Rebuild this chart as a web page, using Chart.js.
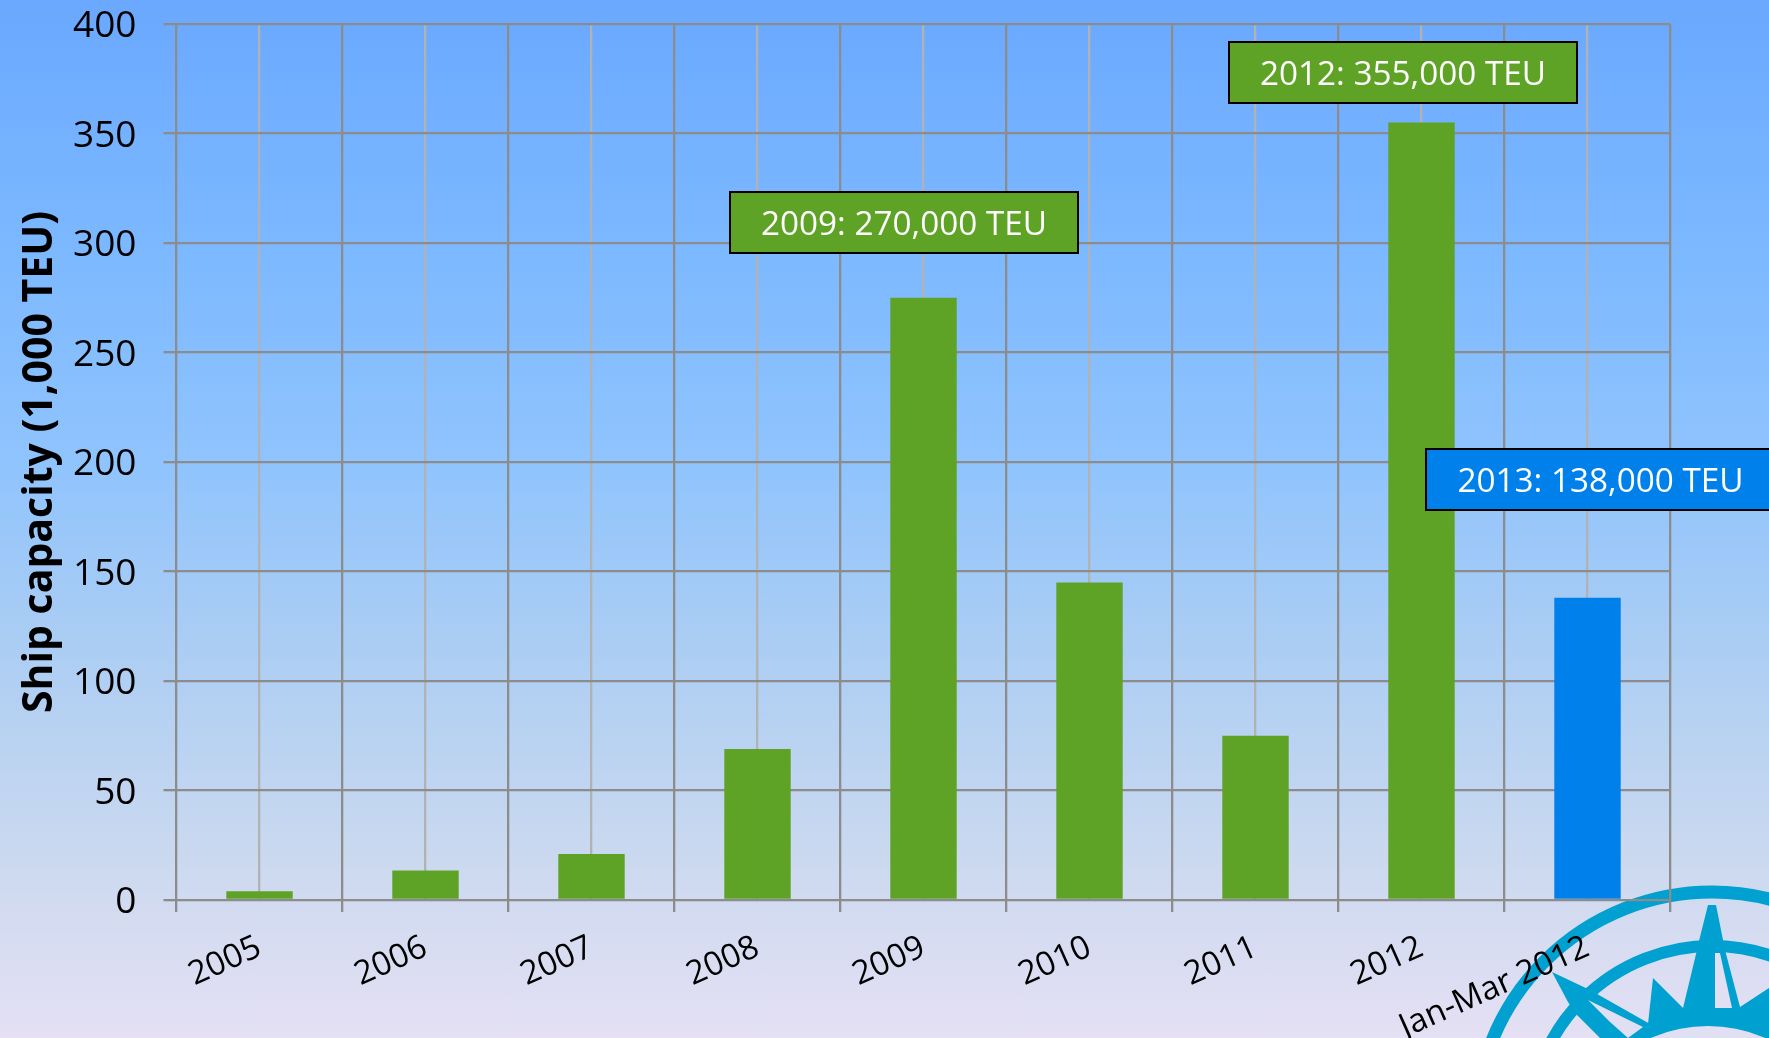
<!DOCTYPE html>
<html>
<head>
<meta charset="utf-8">
<style>
html,body{margin:0;padding:0;width:1769px;height:1038px;overflow:hidden;
background:linear-gradient(180deg,#6aa8ff 0%,#7db9ff 25%,#90c4fd 45%,#a8ccf4 60%,#cbd9ef 83%,#e5e0f4 100%);}
canvas{display:block}
</style>
<script src="https://cdn.jsdelivr.net/npm/chart.js@4"></script>
</head>
<body>
<canvas id="c" width="1769" height="1038"></canvas>
<script>
const categories = ['2005','2006','2007','2008','2009','2010','2011','2012','Jan-Mar 2012'];
const capacity = [4, 13.5, 21, 69, 275, 145, 75, 355, 138];
const barColors = ['#5fa326','#5fa326','#5fa326','#5fa326','#5fa326','#5fa326','#5fa326','#5fa326','#0080ea'];
const yTicks = [0,50,100,150,200,250,300,350,400];
const axisTitle = 'Ship capacity (1,000 TEU)';
const calloutTexts = ['2009: 270,000 TEU','2012: 355,000 TEU','2013: 138,000 TEU'];
const calloutColors = ['#5fa326','#5fa326','#0080ea'];
const calloutBoxes = [[730,192,348,61],[1229,42,348,61],[1426,449,349,61]];

const FONT = '"Open Sans"';
const TEAL = '#00a0d0';

function poly(ctx, pts, fill){
  ctx.beginPath();
  pts.forEach((p,i)=> i ? ctx.lineTo(p[0],p[1]) : ctx.moveTo(p[0],p[1]));
  ctx.closePath();
  ctx.fillStyle = fill;
  ctx.fill();
}
function noPad(s){s.paddingTop=0;s.paddingBottom=0;s.paddingLeft=0;s.paddingRight=0;}

const compassLogo = {
  id:'compassLogo',
  beforeDraw(chart){
    const ctx = chart.ctx;
    const light = '#e0dff3';
    ctx.save();
    ctx.strokeStyle = TEAL;
    ctx.lineWidth = 13;
    ctx.beginPath(); ctx.arc(1712,1129,237,0,Math.PI*2); ctx.stroke();
    ctx.lineWidth = 12;
    ctx.beginPath(); ctx.arc(1712,1129,183,0,Math.PI*2); ctx.stroke();
    poly(ctx,[[1708,905],[1716,905],[1724,945],[1698,945]],TEAL);
    poly(ctx,[[1648,1024],[1653,978],[1683,1008],[1697,950],[1725,950],[1740,1007],[1769,988],[1769,1038],[1648,1038]],TEAL);
    poly(ctx,[[1715,953],[1720,953],[1732,1008],[1715,1008]],light);
    poly(ctx,[[1552,972],[1590,990],[1650,1024],[1660,1038],[1600,1038],[1577,1015],[1568,1002]],TEAL);
    poly(ctx,[[1588,1000],[1643,1027],[1628,1038],[1610,1022]],light);
    ctx.fillStyle = light;
    ctx.beginPath(); ctx.arc(1708,1169,143,0,Math.PI*2); ctx.fill();
    ctx.restore();
  }
};

const callouts = {
  id:'callouts',
  afterDraw(chart){
    const ctx = chart.ctx;
    ctx.save();
    calloutTexts.forEach((t,i)=>{
      const [x,y,w,h] = calloutBoxes[i];
      ctx.fillStyle = calloutColors[i];
      ctx.fillRect(x,y,w,h);
      ctx.strokeStyle = '#000';
      ctx.lineWidth = 2;
      ctx.strokeRect(x,y,w,h);
      ctx.fillStyle = '#fff';
      ctx.font = '33.3px '+FONT;
      ctx.textAlign = 'center';
      ctx.textBaseline = 'middle';
      ctx.fillText(t,x+w/2,y+h/2+3.5);
    });
    ctx.restore();
  }
};

new Chart(document.getElementById('c'),{
  type:'bar',
  data:{labels:categories,datasets:[{data:capacity,backgroundColor:barColors,borderWidth:0,categoryPercentage:1,barPercentage:0.4,xAxisID:'x',yAxisID:'y'}]},
  plugins:[compassLogo,callouts],
  options:{
    responsive:false,
    animation:false,
    events:[],
    layout:{autoPadding:false,padding:{top:24,right:98.5,left:0,bottom:0}},
    plugins:{legend:{display:false},tooltip:{enabled:false},title:{display:false}},
    scales:{
      x:{
        type:'category',
        position:'bottom',
        offset:true,
        afterFit(s){s.height=138;noPad(s);},
        grid:{offset:true,color:'#8c8c8c',lineWidth:2.3,tickLength:12,tickColor:'#8c8c8c',drawOnChartArea:true},
        border:{display:false},
        ticks:{color:'#000',font:{family:FONT,size:33},minRotation:24,maxRotation:24,autoSkip:false,padding:16}
      },
      x2:{
        type:'category',
        axis:'x',
        position:'bottom',
        labels:categories,
        offset:true,
        afterFit(s){s.height=0;noPad(s);},
        grid:{offset:false,color:'#b2b2b2',lineWidth:2.3,drawTicks:false},
        border:{display:false},
        ticks:{display:false}
      },
      y:{
        min:0,max:400,
        position:'left',
        afterFit(s){s.width=176.5;noPad(s);},
        afterBuildTicks(s){s.ticks=yTicks.map(v=>({value:v}));},
        grid:{color:'#8c8c8c',lineWidth:2.3,tickLength:13,tickColor:'#8c8c8c'},
        border:{display:false},
        ticks:{color:'#000',font:{family:FONT,size:37},padding:27,labelOffset:2.5},
        title:{display:true,text:axisTitle,color:'#000',font:{family:FONT,size:41,weight:'bold'},padding:{top:16,bottom:0}}
      }
    }
  }
});
</script>
</body>
</html>
